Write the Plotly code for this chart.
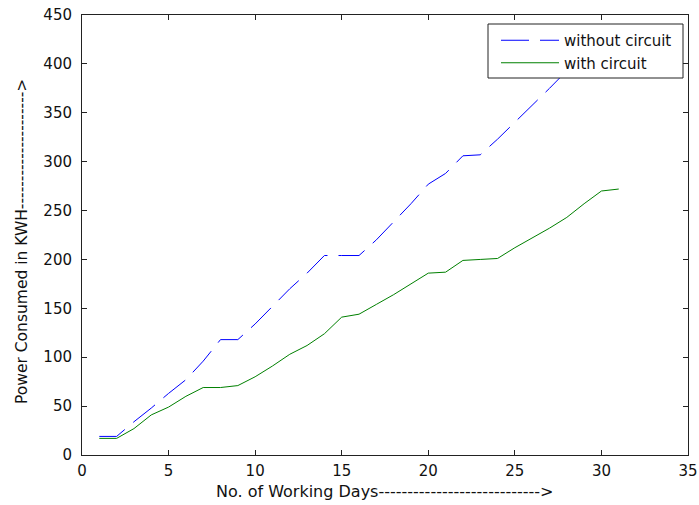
import plotly.graph_objects as go

days = list(range(1, 32))
without_circuit = [19, 19, 34, 48, 63, 77, 96, 118, 118, 134, 152, 170, 186, 204, 204,
                   204, 220, 238, 257, 277, 288, 306, 307, 323, 340, 358, 375, 393, 410, 427, 433]
with_circuit = [17, 17, 27, 41, 49, 60, 69, 69, 71, 80, 91, 103, 112, 124, 141,
                144, 154, 164, 175, 186, 187, 199, 200, 201, 212, 222, 232, 243, 257, 270, 272]

x_ticks = [0, 5, 10, 15, 20, 25, 30, 35]
y_ticks = [0, 50, 100, 150, 200, 250, 300, 350, 400, 450]

x_title = "No. of Working Days" + "-" * 28 + ">"
y_title = "Power Consumed in KWH" + "-" * 21 + ">"

FONT = "DejaVu Sans"
AX = "#222222"
TXT = "#111111"

PW, PH = 699, 505
L, R, T, B = 82, 11, 15, 50
plot_w = PW - L - R
plot_h = PH - T - B
X0, Y0 = L, T            # plot area top-left in page px (body margin removed)


def px_x(px):
    return (px - X0) / plot_w


def px_y(py):
    return 1 - (py - Y0) / plot_h


fig = go.Figure()
fig.add_trace(go.Scatter(x=days, y=without_circuit, mode="lines", name="without circuit",
                         line=dict(color="#0000ff", width=1, dash="28px,11px")))
fig.add_trace(go.Scatter(x=days, y=with_circuit, mode="lines", name="with circuit",
                         line=dict(color="#008000", width=1)))

axis_common = dict(showline=True, linecolor=AX, linewidth=1, mirror="ticks",
                   ticks="inside", ticklen=5, tickcolor=AX, showgrid=False, zeroline=False,
                   automargin=False, ticklabeloverflow="allow",
                   tickfont=dict(family=FONT, size=15, color=TXT))

fig.update_xaxes(range=[0, 35], tickvals=x_ticks, ticktext=[str(v) for v in x_ticks],
                 ticklabelstandoff=2, **axis_common)
fig.update_yaxes(range=[0, 450], tickvals=y_ticks, ticktext=[str(v) for v in y_ticks],
                 ticklabelstandoff=6, **axis_common)

fig.add_annotation(text=x_title, xref="paper", yref="paper", x=px_x(385), y=px_y(492),
                   xanchor="center", yanchor="middle", showarrow=False,
                   font=dict(family=FONT, size=16, color=TXT))
fig.add_annotation(text=y_title, xref="paper", yref="paper", x=px_x(22), y=px_y(242),
                   xanchor="center", yanchor="middle", textangle=-90,
                   showarrow=False, font=dict(family=FONT, size=15.5, color=TXT))

# legend box (opaque, above the data lines)
fig.add_shape(type="rect", xref="paper", yref="paper",
              x0=px_x(488), x1=px_x(683), y0=px_y(78), y1=px_y(24),
              line=dict(color=AX, width=1), fillcolor="white", layer="above")

fig.update_layout(
    width=PW, height=PH,
    margin=dict(l=L, r=R, t=T, b=B, autoexpand=False),
    paper_bgcolor="white", plot_bgcolor="white",
    font=dict(family=FONT, size=15, color=TXT),
    showlegend=True,
    hovermode=False,
    legend=dict(x=px_x(496), y=px_y(24), xanchor="left", yanchor="top",
                bgcolor="rgba(0,0,0,0)", borderwidth=0,
                font=dict(family=FONT, size=15, color=TXT),
                itemwidth=58, tracegroupgap=0),
)

fig.write_html("out.html", config={"displayModeBar": False},
               post_script="document.body.style.margin='0';")
